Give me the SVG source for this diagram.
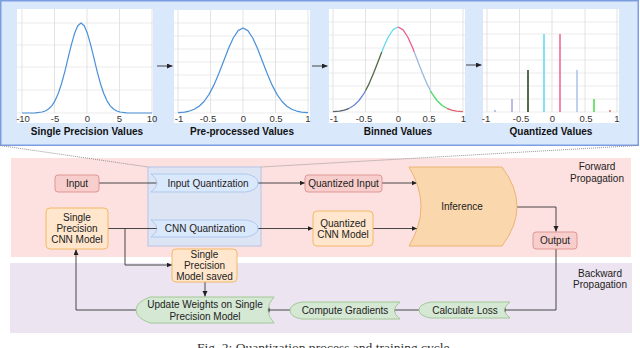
<svg xmlns="http://www.w3.org/2000/svg" width="640" height="348" viewBox="0 0 640 348">
<defs>
<marker id="ah" markerUnits="userSpaceOnUse" markerWidth="6" markerHeight="6" refX="5.5" refY="2.5" orient="auto">
<path d="M0,0 L5.5,2.5 L0,5 z" fill="#222"/>
</marker>
<style>
text{font-family:"Liberation Sans",Arial,sans-serif;fill:#222}
.n{font-size:10px;text-anchor:middle}
.t{font-size:10px;font-weight:bold;text-anchor:middle;fill:#111}
.k{font-size:9.5px;text-anchor:middle;fill:#333}
.g{stroke:#e6e6e6;stroke-width:0.8;fill:none}
.gv{stroke:#dcdcdc;stroke-width:0.8;fill:none}
.plot{fill:#fff}
.cv{fill:none;stroke:#4a90d9;stroke-width:1.2;stroke-linejoin:round}
.seg{fill:none;stroke-width:1.3;stroke-linejoin:round}
.c{fill:none;stroke:#333;stroke-width:0.9}
.ca{fill:none;stroke:#333;stroke-width:0.9;marker-end:url(#ah)}
.red{fill:#f8cecc;stroke:#d9908e;stroke-width:0.9}
.peach{fill:#ffe6cc;stroke:#f0b45a;stroke-width:0.9}
.blue{fill:#dae8fc;stroke:#a9c4eb;stroke-width:0.9}
.green{fill:#d5e8d4;stroke:#9cc58c;stroke-width:0.9}
.dot{fill:none;stroke:#888;stroke-width:0.9;stroke-dasharray:1,1}
</style>
</defs>

<!-- top panel -->
<g id="top-panel">
<rect x="0.75" y="0.75" width="637.5" height="144.5" fill="#dae8fc" stroke="#7c9ee0" stroke-width="1.5"/>
</g>

<!-- chart 1 -->
<g id="chart-single-precision">
<rect class="plot" x="17" y="9" width="136" height="114"/>
<path class="g" d="M17,23H153M17,45H153M17,67H153M17,90H153M17,113H153"/>
<path class="gv" d="M54.5,9V113M87,9V113M119.5,9V113M152,9V113M22,9V113"/>
<polyline class="cv" points="22,113 35.5,112.8 42,112 45.25,110.95 48.5,109.05 51.75,105.84 55,100.82 58.25,93.53 61.5,83.78 64.75,71.8 68,58.4 71.25,45.07 74.5,33.57 77.75,25.77 81,23 84.25,25.77 87.5,33.57 90.75,45.07 94,58.4 97.25,71.8 100.5,83.78 103.75,93.53 107,100.82 110.25,105.84 113.5,109.05 116.75,110.95 120,112 126.5,112.8 133,113 152,113"/>
<text class="k" x="23" y="122">-10</text>
<text class="k" x="55" y="122">-5</text>
<text class="k" x="87.5" y="122">0</text>
<text class="k" x="119.5" y="122">5</text>
<text class="k" x="152" y="122">10</text>
<text class="t" x="87" y="135">Single Precision Values</text>
</g>

<!-- chart 2 -->
<g id="chart-preprocessed">
<rect class="plot" x="174" y="10" width="136" height="113"/>
<path class="g" d="M174,23H310M174,36H310M174,49H310M174,62H310M174,75H310M174,88H310M174,100H310M174,113H310"/>
<path class="gv" d="M178,10V113M210.5,10V113M243,10V113M275.5,10V113M308,10V113"/>
<polyline class="cv" points="178,112.7 184.5,112.06 189.375,111.06 194.25,109.27 199.125,106.23 204,101.5 208.875,94.61 213.75,85.4 218.625,74.09 223.5,61.45 228.375,48.84 233.25,37.99 238.125,30.62 243,28 247.875,30.62 252.75,37.99 257.625,48.84 262.5,61.45 267.375,74.09 272.25,85.4 277.125,94.61 282,101.5 286.875,106.23 291.75,109.27 296.625,111.06 301.5,112.06 308,112.7"/>
<text class="k" x="179" y="122">-1</text>
<text class="k" x="208" y="122">-0.5</text>
<text class="k" x="243.5" y="122">0</text>
<text class="k" x="276" y="122">0.5</text>
<text class="k" x="308" y="122">1</text>
<text class="t" x="242" y="135">Pre-processed Values</text>
</g>

<!-- chart 3 -->
<g id="chart-binned">
<rect class="plot" x="329" y="9" width="136" height="114"/>
<path class="g" d="M329,22H465M329,35H465M329,48H465M329,60H465M329,73H465M329,86H465M329,99H465M329,112H465"/>
<path class="gv" d="M333,9V112M365.5,9V112M398,9V112M430.5,9V112M463,9V112"/>
<polyline class="seg" stroke="#58606e" points="333,111.7 339.5,111.06 344.375,110.06 349.25,108.27"/>
<polyline class="seg" stroke="#6f86d6" points="349.25,108.27 354.125,105.23 359,100.5 363.875,93.61 365.5,90.8"/>
<polyline class="seg" stroke="#4d6b45" points="365.5,90.8 368.75,84.4 373.625,73.09 378.5,60.45 381.75,51.9"/>
<polyline class="seg" stroke="#66d9ef" points="381.75,51.9 383.375,47.84 388.25,36.99 393.125,29.62 398,27"/>
<polyline class="seg" stroke="#ef5b8c" points="398,27 402.875,29.62 407.75,36.99 412.625,47.84 414.25,51.9"/>
<polyline class="seg" stroke="#9ab8e0" points="414.25,51.9 417.5,60.45 422.375,73.09 427.25,84.4 430.5,90.8"/>
<polyline class="seg" stroke="#4cd964" points="430.5,90.8 432.125,93.61 437,100.5 441.875,105.23 446.75,108.27"/>
<polyline class="seg" stroke="#e06070" points="446.75,108.27 451.625,110.06 456.5,111.06 463,111.7"/>
<text class="k" x="334" y="122">-1</text>
<text class="k" x="364" y="122">-0.5</text>
<text class="k" x="398.5" y="122">0</text>
<text class="k" x="429" y="122">0.5</text>
<text class="k" x="463.5" y="122">1</text>
<text class="t" x="398" y="135">Binned Values</text>
</g>

<!-- chart 4 -->
<g id="chart-quantized">
<rect class="plot" x="483" y="9" width="136" height="114"/>
<path class="g" d="M483,22H619M483,34H619M483,48H619M483,60H619M483,73H619M483,86H619M483,99H619M483,112H619"/>
<path class="gv" d="M487,9V112M519.5,9V112M552,9V112M585,9V112M617,9V112"/>
<g stroke-width="1.6">
<line x1="495" y1="112" x2="495" y2="110" stroke="#a8b8d8"/>
<line x1="512" y1="112" x2="512" y2="99" stroke="#b0a8e0"/>
<line x1="528" y1="112" x2="528" y2="70" stroke="#4f6e45" stroke-width="2"/>
<line x1="544" y1="112" x2="544" y2="34" stroke="#66dced"/>
<line x1="560" y1="112" x2="560" y2="34" stroke="#f06a98"/>
<line x1="577" y1="112" x2="577" y2="70" stroke="#b0c4ea"/>
<line x1="594" y1="112" x2="594" y2="99" stroke="#50dd50"/>
<line x1="610" y1="112" x2="610" y2="110" stroke="#e07070"/>
</g>
<text class="k" x="486" y="122">-1</text>
<text class="k" x="521" y="122">-0.5</text>
<text class="k" x="552.5" y="122">0</text>
<text class="k" x="586" y="122">0.5</text>
<text class="k" x="617" y="122">1</text>
<text class="t" x="551" y="135">Quantized Values</text>
</g>

<!-- regions -->
<g id="forward-region">
<rect x="11" y="158" width="620" height="99" fill="#fde0e0"/>
<text class="n" x="597" y="169.5">Forward</text>
<text class="n" x="597" y="181.5">Propagation</text>
</g>
<g id="backward-region">
<rect x="10" y="263" width="622" height="70" fill="#ece4f0"/>
<text class="n" x="600" y="276.5">Backward</text>
<text class="n" x="600" y="288">Propagation</text>
</g>
<g id="quantization-box">
<rect x="148" y="167" width="113" height="79" fill="#dde5f5" stroke="#a9bde3" stroke-width="0.8"/>
</g>

<!-- connectors -->
<g id="connectors">
<path class="ca" d="M157,66H172.5"/>
<path class="ca" d="M312,66H327.5"/>
<path class="ca" d="M466,65H481.5"/>
<path class="dot" d="M0,145.5L148,167"/>
<path class="dot" d="M638,145.5L261,167"/>
<path class="ca" d="M99,183H162"/>
<path class="ca" d="M108,228.5H162"/>
<path class="ca" d="M125,228.5V265H172"/>
<path class="ca" d="M258,183H305"/>
<path class="ca" d="M258,228.5H313"/>
<path class="ca" d="M382,183H417"/>
<path class="ca" d="M373,228.5H417"/>
<path class="ca" d="M517,207H556V231.5"/>
<path class="ca" d="M556,249V310H500"/>
<path class="ca" d="M419,310H389"/>
<path class="ca" d="M290,310H264"/>
<path class="ca" d="M205,282V296.5"/>
<path class="ca" d="M136,310H76V249.5"/>
</g>

<!-- nodes -->
<g id="node-input">
<rect class="red" x="55" y="175" width="44" height="17" rx="3"/>
<text class="n" x="77" y="186.5">Input</text>
</g>
<g id="node-sp-cnn-model">
<rect class="peach" x="46" y="208" width="62" height="41" rx="4"/>
<text class="n" x="77" y="220.5">Single</text>
<text class="n" x="77" y="231.5">Precision</text>
<text class="n" x="77" y="242.5">CNN Model</text>
</g>
<g id="node-input-quantization">
<path class="blue" d="M151,174H246Q258,176 258,183Q258,190 246,192H151Q163,183 151,174Z"/>
<text class="n" x="208" y="186.5">Input Quantization</text>
</g>
<g id="node-cnn-quantization">
<path class="blue" d="M151,220H246Q258,222 258,228.5Q258,235 246,237H151Q163,228.5 151,220Z"/>
<text class="n" x="205" y="232">CNN Quantization</text>
</g>
<g id="node-quantized-input">
<rect class="red" x="305" y="175" width="77" height="17" rx="3"/>
<text class="n" x="343.5" y="186.5">Quantized Input</text>
</g>
<g id="node-quantized-cnn-model">
<rect class="peach" x="313" y="211" width="60" height="35" rx="4"/>
<text class="n" x="343" y="226.5">Quantized</text>
<text class="n" x="343" y="237.5">CNN Model</text>
</g>
<g id="node-inference">
<path d="M409,167H502Q517,187 517,206.5Q517,226 502,246H409Q421,226 421,206.5Q421,187 409,167Z" fill="#fad7ac" stroke="#e8b06a" stroke-width="0.9"/>
<text class="n" x="462" y="210">Inference</text>
</g>
<g id="node-output">
<rect class="red" x="533" y="232" width="44" height="17" rx="3"/>
<text class="n" x="555" y="243.5">Output</text>
</g>
<g id="node-sp-model-saved">
<rect class="peach" x="172" y="249" width="65" height="33" rx="4"/>
<text class="n" x="204.5" y="257.5">Single</text>
<text class="n" x="204.5" y="268.5">Precision</text>
<text class="n" x="204.5" y="279.5">Model saved</text>
</g>
<g id="node-calculate-loss">
<path class="green" d="M431,302H510Q499,310 510,318H431Q419,316 419,310Q419,304 431,302Z"/>
<text class="n" x="465" y="313.5">Calculate Loss</text>
</g>
<g id="node-compute-gradients">
<path class="green" d="M302,302H400Q389,310.5 400,319H302Q290,317 290,310.5Q290,304 302,302Z"/>
<text class="n" x="345" y="313.5">Compute Gradients</text>
</g>
<g id="node-update-weights">
<path class="green" d="M150,297H274Q262,310 274,323H150Q136,318 136,310Q136,302 150,297Z"/>
<text class="n" x="205" y="307.5">Update Weights on Single</text>
<text class="n" x="205" y="319.5">Precision Model</text>
</g>

<g id="caption">
<text x="197" y="352" font-family="'Liberation Serif','Times New Roman',serif" font-size="13" textLength="256" lengthAdjust="spacingAndGlyphs" style="font-family:'Liberation Serif','Times New Roman',serif;fill:#333">Fig. 2: Quantization process and training cycle.</text>
</g>
</svg>
